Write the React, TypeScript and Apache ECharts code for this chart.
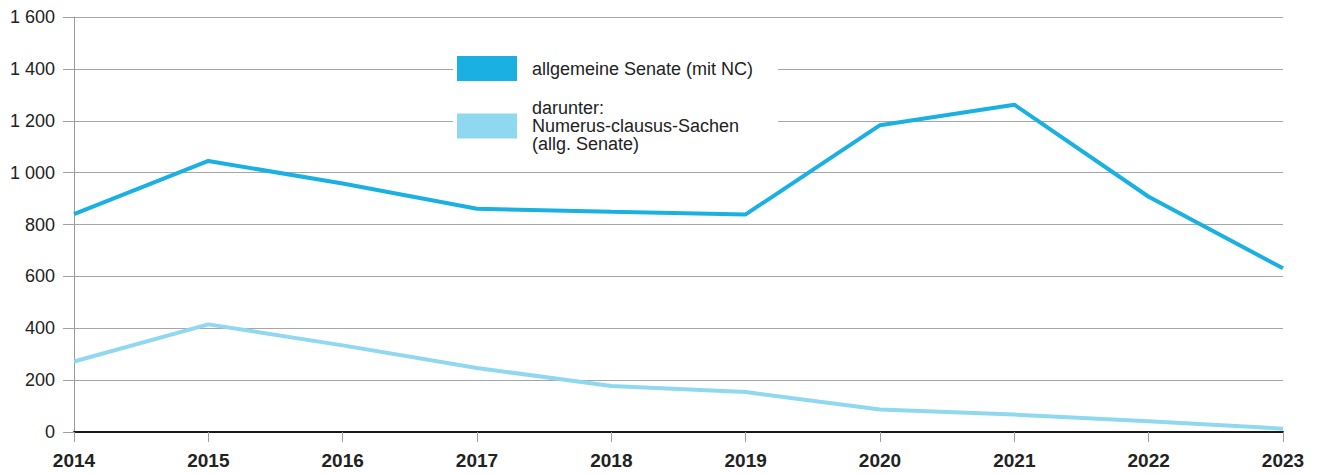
import React, { useEffect, useRef } from "react";
import * as echarts from "echarts";

const years = ["2014", "2015", "2016", "2017", "2018", "2019", "2020", "2021", "2022", "2023"];
const allgemeineSenate = [840, 1045, 958, 861, 849, 839, 1183, 1262, 907, 631];
const ncSachen = [272, 415, 334, 247, 177, 154, 87, 67, 41, 13];
const seriesNames = ["allgemeine Senate (mit NC)", "darunter:\nNumerus-clausus-Sachen\n(allg. Senate)"];

const FONT = "'Liberation Sans', Arial, Helvetica, sans-serif";

export default function App() {
  const ref = useRef<HTMLDivElement>(null);
  useEffect(() => {
    if (!ref.current) return;
    const chart = echarts.init(ref.current, null, { renderer: "svg" });
    chart.setOption({
      animation: false,
      textStyle: { fontFamily: FONT },
      grid: { left: 74, right: 39, top: 17, bottom: 42, containLabel: false },
      legend: {
        orient: "vertical",
        left: 453,
        top: 45,
        padding: [11, 25, 8, 4],
        backgroundColor: "#ffffff",
        itemWidth: 60,
        itemHeight: 25,
        itemGap: 18,
        icon: "rect",
        selectedMode: false,
        textStyle: {
          fontFamily: FONT,
          fontSize: 18,
          lineHeight: 18,
          color: "#222222",
          padding: [0, 0, 0, 10],
        },
        data: seriesNames,
      },
      xAxis: {
        type: "category",
        data: years,
        boundaryGap: false,
        axisLine: { show: true, lineStyle: { color: "#1a1a1a", width: 2 } },
        axisTick: { show: true, alignWithLabel: true, length: 10, lineStyle: { color: "#a0a0a0", width: 1 } },
        axisLabel: { fontFamily: FONT, fontSize: 19, fontWeight: "bold", color: "#222222", margin: 19 },
        splitLine: { show: false },
      },
      yAxis: {
        type: "value",
        min: 0,
        max: 1600,
        interval: 200,
        axisLine: { show: true, lineStyle: { color: "#9a9a9a", width: 1 } },
        axisTick: { show: true, length: 11, lineStyle: { color: "#a0a0a0", width: 1 } },
        axisLabel: {
          fontFamily: FONT,
          fontSize: 18,
          color: "#222222",
          margin: 19,
          formatter: (v: number) => String(v).replace(/\B(?=(\d{3})+(?!\d))/g, " "),
        },
        splitLine: { show: true, lineStyle: { color: "#a6a6a6", width: 1 } },
      },
      series: [
        {
          name: seriesNames[0],
          type: "line",
          data: allgemeineSenate,
          symbol: "none",
          color: "#1ab0e2",
          lineStyle: { width: 4, color: "#1ab0e2" },
          z: 3,
        },
        {
          name: seriesNames[1],
          type: "line",
          data: ncSachen,
          symbol: "none",
          color: "#8fd8ef",
          lineStyle: { width: 4, color: "#8fd8ef" },
          z: 2,
        },
      ],
    });
    return () => chart.dispose();
  }, []);
  return (
    <div
      ref={ref}
      style={{ position: "fixed", left: 0, top: 0, width: 1322, height: 474, background: "#ffffff" }}
    />
  );
}
